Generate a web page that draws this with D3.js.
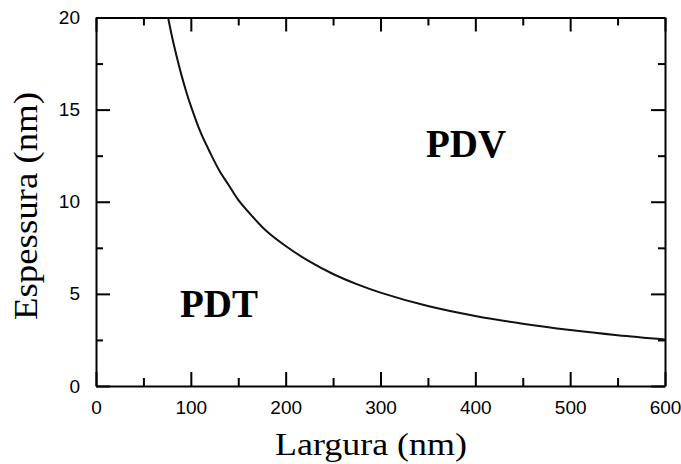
<!DOCTYPE html>
<html><head><meta charset="utf-8">
<script src="https://cdn.jsdelivr.net/npm/d3@7"></script>
<style>
html,body{margin:0;padding:0;background:#fff;}
svg{display:block;}
</style>
</head><body>
<svg id="chart" width="681" height="464"></svg>
<script>
// Data
const widthValues = [76, 80, 85, 90, 95, 100, 110, 120, 130, 140, 150, 165, 180, 200, 225, 250, 275, 300, 350, 400, 450, 500, 550, 600];
const thicknessValues = [20, 19.0, 17.9, 16.9, 16.0, 15.2, 13.8, 12.7, 11.7, 10.9, 10.1, 9.2, 8.4, 7.6, 6.76, 6.08, 5.53, 5.07, 4.34, 3.8, 3.38, 3.04, 2.76, 2.53];
const xMajorTicks = [0, 100, 200, 300, 400, 500, 600];
const xMinorTicks = [50, 150, 250, 350, 450, 550];
const yMajorTicks = [0, 5, 10, 15, 20];
const yMinorTicks = [2.5, 7.5, 12.5, 17.5];
const regionLabels = [{text: "PDT", x: 88.5, y: 3.74}, {text: "PDV", x: 348, y: 12.43}];
const xTitle = "Largura (nm)";
const yTitle = "Espessura (nm)";

const svg = d3.select("#chart");
const pLeft = 96, pRight = 665, pTop = 17.5, pBottom = 386;
const x = d3.scaleLinear().domain([0, 600]).range([pLeft, pRight]);
const y = d3.scaleLinear().domain([0, 20]).range([pBottom, pTop]);

const labelFont = "'Liberation Sans', Arial, sans-serif";
const serif = "'Liberation Serif', 'Times New Roman', serif";

function style(g) {
  g.selectAll(".domain").attr("stroke", "#000").attr("stroke-width", 2);
  g.selectAll(".tick line").attr("stroke", "#000").attr("stroke-width", 2);
  g.selectAll(".tick text").attr("fill", "#000").attr("font-family", labelFont).attr("font-size", 19);
}

// bottom
svg.append("g").attr("transform", `translate(0,${pBottom})`)
  .call(d3.axisBottom(x).tickValues(xMajorTicks).tickSizeInner(-14).tickSizeOuter(0).tickPadding(15).tickFormat(d3.format("d")))
  .call(style);
svg.append("g").attr("transform", `translate(0,${pBottom})`)
  .call(d3.axisBottom(x).tickValues(xMinorTicks).tickSizeInner(-8).tickSizeOuter(0).tickFormat(""))
  .call(style).call(g => g.select(".domain").remove());
// top
svg.append("g").attr("transform", `translate(0,${pTop})`)
  .call(d3.axisTop(x).tickValues(xMajorTicks).tickSizeInner(-14).tickSizeOuter(0).tickFormat(""))
  .call(style);
svg.append("g").attr("transform", `translate(0,${pTop})`)
  .call(d3.axisTop(x).tickValues(xMinorTicks).tickSizeInner(-8).tickSizeOuter(0).tickFormat(""))
  .call(style).call(g => g.select(".domain").remove());
// left
svg.append("g").attr("transform", `translate(${pLeft},0)`)
  .call(d3.axisLeft(y).tickValues(yMajorTicks).tickSizeInner(-14).tickSizeOuter(0).tickPadding(16).tickFormat(d3.format("d")))
  .call(style);
svg.append("g").attr("transform", `translate(${pLeft},0)`)
  .call(d3.axisLeft(y).tickValues(yMinorTicks).tickSizeInner(-7).tickSizeOuter(0).tickFormat(""))
  .call(style).call(g => g.select(".domain").remove());
// right
svg.append("g").attr("transform", `translate(${pRight},0)`)
  .call(d3.axisRight(y).tickValues(yMajorTicks).tickSizeInner(-14).tickSizeOuter(0).tickFormat(""))
  .call(style);
svg.append("g").attr("transform", `translate(${pRight},0)`)
  .call(d3.axisRight(y).tickValues(yMinorTicks).tickSizeInner(-7).tickSizeOuter(0).tickFormat(""))
  .call(style).call(g => g.select(".domain").remove());

// curve
const pts = widthValues.map((w, i) => [w, thicknessValues[i]]);
svg.append("path").datum(pts)
  .attr("fill", "none").attr("stroke", "#111").attr("stroke-width", 2)
  .attr("d", d3.line().x(d => x(d[0])).y(d => y(d[1])).curve(d3.curveCatmullRom.alpha(0.5)));

// region labels
svg.selectAll("text.region").data(regionLabels).join("text")
  .attr("class", "region")
  .attr("x", d => x(d.x)).attr("y", d => y(d.y))
  .attr("font-family", serif).attr("font-weight", "bold").attr("font-size", 39)
  .attr("fill", "#000")
  .text(d => d.text);

// axis titles
svg.append("text")
  .attr("x", (275 + 467) / 2).attr("y", 455)
  .attr("text-anchor", "middle")
  .attr("font-family", serif).attr("font-weight", "normal").attr("font-size", 32)
  .attr("textLength", 192).attr("lengthAdjust", "spacingAndGlyphs")
  .attr("fill", "#000").text(xTitle);
svg.append("text")
  .attr("transform", `translate(37,${(92 + 320) / 2}) rotate(-90)`)
  .attr("text-anchor", "middle")
  .attr("font-family", serif).attr("font-weight", "normal").attr("font-size", 33)
  .attr("textLength", 228).attr("lengthAdjust", "spacingAndGlyphs")
  .attr("fill", "#000").text(yTitle);
</script>
</body></html>
